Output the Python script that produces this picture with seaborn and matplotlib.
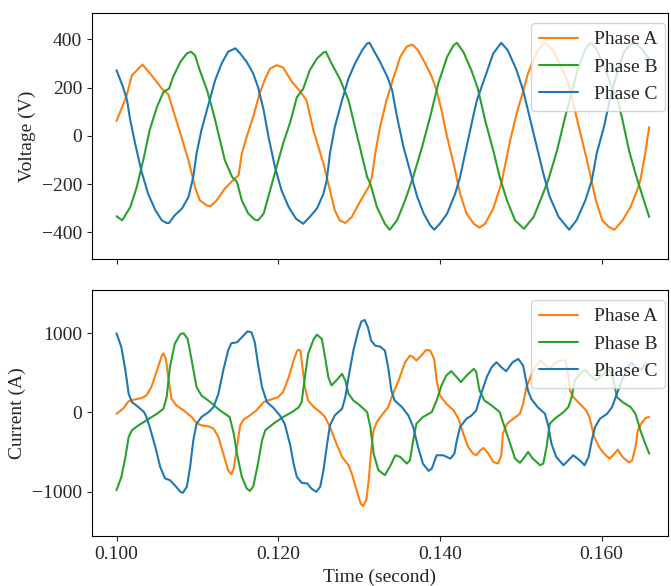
import numpy as np
import pandas as pd
import matplotlib
matplotlib.use("Agg")
import matplotlib.pyplot as plt
from matplotlib.lines import Line2D
from matplotlib.ticker import FormatStrFormatter
import seaborn as sns

# ---- three-phase voltage (time in ms, value in V) ----
va_t = [100.0, 101.2, 101.9, 103.2, 104.35, 105.6, 106.4, 107.0, 107.9, 108.9, 109.7, 110.3, 111.2, 111.6,
        112.4, 113.4, 114.4, 115.1, 115.5, 116.1, 116.9, 117.7, 118.4, 119.0, 119.8, 120.6, 121.7, 122.7,
        123.5, 124.35, 125.6, 126.4, 127.0, 127.6, 128.3, 129.1, 130.1, 131.2, 131.6, 132.0, 132.6, 133.4,
        134.3, 135.1, 135.9, 136.6, 137.3, 138.2, 139.0, 139.6, 140.2, 140.8, 141.7, 142.5, 143.3, 144.2,
        144.9, 145.6, 146.6, 147.6, 148.7, 149.5, 150.1, 150.9, 152.0, 152.6, 153.1, 154.0, 155.1, 155.9,
        156.3, 157.2, 158.2, 159.3, 160.1, 160.9, 161.6, 162.6, 163.6, 164.4, 164.8, 165.4, 165.9]
va_v = [62, 162, 251, 296, 251, 196, 173, 107, 10, -101, -212, -267, -289, -292,
        -267, -218, -184, -163, -73, -4, 79, 176, 238, 279, 293, 284, 224, 185,
        148, 24, -115, -225, -308, -350, -361, -336, -274, -211, -170, -73, 37, 148,
        245, 328, 370, 379, 355, 300, 245, 189, 107, 10, -115, -239, -322, -364,
        -380, -364, -301, -198, -18, 93, 162, 259, 349, 376, 386, 355, 280, 217,
        162, 37, -101, -267, -350, -377, -389, -350, -294, -225, -184, -73, 37]

vb_t = [100.0, 100.7, 101.7, 102.5, 103.3, 104.1, 105.0, 105.8, 106.5, 107.0, 107.9, 108.7, 109.2, 109.7,
        110.3, 111.2, 112.0, 112.8, 113.4, 114.3, 114.9, 115.5, 116.3, 117.1, 117.5, 118.2, 119.0, 119.8,
        120.6, 121.5, 122.3, 123.1, 123.9, 124.8, 125.6, 125.9, 126.6, 127.6, 128.7, 129.5, 130.3, 131.0,
        131.4, 132.2, 133.2, 133.8, 134.7, 135.7, 136.7, 137.8, 138.8, 139.8, 140.9, 141.7, 142.1, 142.9,
        143.9, 144.7, 145.6, 146.6, 147.4, 148.3, 149.3, 150.4, 151.6, 152.6, 153.4, 154.5, 155.5, 156.1,
        157.0, 158.0, 158.6, 159.3, 160.3, 161.3, 161.9, 162.6, 163.4, 164.2, 165.1, 165.9]
vb_v = [-333, -350, -295, -212, -101, 24, 120, 182, 196, 245, 307, 342, 349, 335,
        272, 189, 93, -18, -101, -170, -191, -267, -322, -347, -350, -322, -225, -129,
        -32, 58, 160, 196, 272, 321, 346, 349, 300, 238, 148, 37, -73, -170,
        -198, -294, -364, -389, -350, -267, -170, -46, 79, 217, 328, 376, 386, 349,
        272, 196, 65, -60, -170, -267, -350, -385, -336, -253, -184, -60, 79, 155,
        270, 360, 386, 365, 290, 200, 162, 65, -60, -156, -253, -336]

vc_t = [100.0, 100.8, 101.3, 101.7, 102.3, 103.1, 103.9, 104.8, 105.6, 106.2, 106.5, 107.2, 108.1, 108.9,
        109.5, 109.9, 110.5, 111.4, 112.2, 113.0, 113.8, 114.7, 115.3, 116.1, 116.9, 117.5, 118.2, 118.8,
        119.6, 120.4, 121.3, 122.2, 123.1, 123.9, 124.8, 125.6, 126.0, 126.4, 127.0, 127.9, 128.7, 129.5,
        130.4, 131.0, 131.3, 131.8, 132.6, 133.5, 134.1, 134.7, 135.5, 136.4, 137.2, 138.0, 138.8, 139.3,
        140.0, 140.9, 141.9, 142.5, 143.3, 144.2, 144.6, 145.6, 146.6, 147.6, 148.4, 149.5, 150.3, 151.2,
        152.0, 152.8, 153.6, 154.7, 156.0, 156.9, 158.0, 158.8, 159.4, 160.3, 161.1, 162.0, 162.8, 163.6,
        164.2, 165.0, 165.9]
vc_v = [272, 203, 148, 65, -32, -149, -239, -308, -350, -361, -361, -329, -301, -253,
        -170, -73, 24, 134, 231, 300, 349, 363, 342, 307, 259, 203, 107, -4,
        -129, -225, -295, -343, -364, -336, -301, -239, -184, -73, 37, 148, 238, 300,
        356, 383, 386, 355, 307, 245, 189, 79, -46, -156, -253, -322, -370, -389,
        -364, -322, -239, -170, -46, 93, 150, 245, 342, 386, 355, 272, 189, 65,
        -46, -156, -253, -336, -389, -350, -267, -184, -73, 37, 162, 270, 350, 380,
        386, 360, 320]

# ---- three-phase current (time in ms, value in A) ----
ia_t = [100.0, 100.8, 101.5, 102.3, 103.1, 103.7, 104.3, 105.0, 105.6, 105.8, 106.1, 106.4, 106.8, 107.4,
        108.3, 109.3, 109.9, 110.5, 111.4, 112.0, 112.6, 113.2, 113.8, 114.2, 114.5, 114.9, 115.3, 115.7,
        116.5, 117.3, 118.2, 119.0, 120.0, 120.6, 121.3, 121.9, 122.3, 122.5, 122.75, 123.0, 123.3, 123.7,
        124.4, 125.2, 125.8, 126.4, 127.2, 127.9, 128.7, 129.1, 129.7, 130.2, 130.5, 130.9, 131.2, 131.5,
        131.8, 132.2, 132.8, 133.6, 134.2, 134.9, 135.7, 136.3, 136.7, 137.1, 137.7, 138.3, 138.8, 139.3,
        139.6, 140.0, 140.8, 141.7, 142.3, 142.9, 143.5, 144.1, 144.5, 145.0, 145.4, 146.0, 146.6, 147.2,
        147.6, 147.8, 148.3, 149.1, 149.9, 150.3, 150.7, 151.3, 151.8, 152.4, 153.0, 153.6, 154.4, 155.2,
        155.6, 155.9, 156.1, 156.5, 157.3, 158.1, 158.5, 159.1, 159.7, 160.3, 161.0, 161.6, 162.0, 162.6,
        163.4, 163.8, 164.2, 164.5, 164.9, 165.5, 165.9]
ia_v = [-17, 46, 143, 164, 180, 214, 319, 528, 717, 746, 675, 444, 172, 88,
        25, -59, -134, -164, -176, -205, -310, -520, -730, -780, -709, -436, -164, -92,
        -38, 25, 130, 159, 193, 256, 444, 654, 770, 790, 780, 570, 319, 151,
        67, 4, -59, -184, -394, -562, -667, -772, -981, -1149, -1182, -1107, -855, -478,
        -226, -122, -38, 67, 235, 403, 633, 717, 696, 654, 717, 788, 780, 675,
        403, 214, 109, 25, -80, -268, -436, -520, -541, -480, -449, -520, -625, -646,
        -541, -268, -143, -80, -17, 109, 319, 465, 570, 658, 600, 553, 637, 660,
        650, 450, 277, 193, 109, 25, -59, -310, -436, -520, -583, -520, -470, -562,
        -633, -604, -436, -226, -143, -67, -59]

ib_t = [100.0, 100.6, 101.1, 101.5, 101.9, 102.7, 103.7, 105.0, 105.8, 106.2, 106.6, 107.2, 107.9, 108.3,
        108.8, 109.3, 109.9, 110.5, 111.6, 112.8, 114.0, 114.5, 114.9, 115.5, 116.1, 116.5, 116.9, 117.5,
        118.0, 118.4, 119.4, 120.6, 121.7, 122.5, 122.9, 123.3, 123.7, 124.4, 124.8, 125.4, 125.8, 126.2,
        126.6, 127.2, 127.9, 128.3, 128.7, 129.3, 130.1, 131.0, 131.4, 131.8, 132.4, 133.2, 133.8, 134.5,
        135.1, 135.9, 136.3, 136.7, 137.1, 137.9, 139.0, 139.6, 140.2, 140.8, 141.4, 142.1, 142.6, 143.3,
        144.2, 144.5, 144.9, 145.5, 146.4, 147.4, 148.0, 148.7, 149.3, 149.9, 150.5, 150.9, 151.5, 152.4,
        152.8, 153.2, 153.6, 154.2, 155.3, 155.9, 156.3, 156.7, 157.3, 157.9, 158.8, 159.3, 160.0, 160.9,
        161.2, 161.45, 161.9, 162.6, 163.6, 164.2, 164.8, 165.4, 165.9]
ib_v = [-981, -813, -562, -310, -226, -164, -101, -17, 46, 193, 570, 864, 990, 998,
        927, 654, 319, 214, 130, 25, -59, -268, -520, -813, -960, -990, -939, -646,
        -352, -226, -143, -59, 4, 60, 130, 444, 738, 927, 981, 927, 696, 444,
        340, 403, 486, 403, 235, 151, 88, 4, -184, -520, -730, -792, -688, -541,
        -562, -646, -604, -352, -143, -59, 4, 151, 340, 465, 520, 444, 382, 465,
        549, 510, 277, 151, 88, 4, -184, -394, -583, -637, -562, -499, -583, -667,
        -646, -436, -143, -80, 4, 67, 193, 403, 480, 540, 450, 400, 470, 540,
        500, 423, 193, 130, 67, -17, -226, -394, -520]

ic_t = [100.0, 100.6, 101.1, 101.5, 101.9, 102.7, 103.4, 103.7, 104.1, 104.8, 105.4, 106.0, 106.6, 107.2,
        107.9, 108.2, 108.7, 109.1, 109.5, 109.9, 110.5, 111.4, 112.0, 112.6, 113.2, 113.8, 114.2, 114.9,
        115.5, 116.2, 116.7, 117.1, 117.5, 118.0, 118.6, 119.4, 120.2, 120.8, 121.5, 121.9, 122.3, 122.9,
        123.6, 124.1, 124.7, 125.2, 125.6, 126.0, 126.4, 127.0, 127.9, 128.3, 128.7, 129.3, 129.9, 130.3,
        130.7, 131.1, 131.5, 132.0, 132.6, 133.2, 133.6, 134.0, 134.4, 135.3, 136.1, 136.7, 137.3, 137.9,
        138.6, 139.0, 139.6, 140.4, 141.3, 141.8, 142.1, 142.5, 143.3, 143.9, 144.5, 145.1, 145.8, 146.4,
        147.0, 147.6, 148.2, 149.0, 149.7, 150.3, 150.9, 151.3, 152.1, 153.0, 153.4, 153.8, 154.4, 155.3,
        155.9, 156.5, 157.3, 157.9, 158.4, 158.8, 159.2, 159.8, 160.7, 161.3, 161.9, 162.6, 163.2, 163.7,
        164.3, 164.9, 165.5, 165.9]
ic_v = [998, 822, 528, 235, 130, 67, 4, -59, -184, -436, -688, -834, -855, -918,
        -1002, -1015, -939, -688, -352, -143, -59, 4, 67, 235, 528, 780, 872, 885,
        948, 1023, 1010, 885, 612, 319, 130, 59, -38, -143, -420, -646, -813, -889,
        -897, -960, -1002, -939, -730, -436, -164, -38, 46, 193, 444, 780, 1031, 1149,
        1166, 1073, 906, 843, 830, 780, 570, 277, 151, 67, -38, -184, -436, -646,
        -738, -709, -541, -541, -583, -520, -352, -184, -80, -40, 25, 235, 444, 570,
        633, 570, 520, 633, 675, 591, 277, 172, 67, -17, -164, -394, -562, -667,
        -604, -541, -604, -667, -562, -352, -184, -80, -17, 67, 235, 423, 560, 630,
        570, 540, 620, 600]

phases = ["Phase A", "Phase B", "Phase C"]
colors = {"Phase A": "#ff7f0e", "Phase B": "#2ca02c", "Phase C": "#1f77b4"}


def long_frame(series):
    parts = []
    for name, (t_ms, vals) in zip(phases, series):
        parts.append(pd.DataFrame({"time": np.asarray(t_ms) / 1000.0,
                                   "value": vals, "phase": name}))
    return pd.concat(parts, ignore_index=True)


volt = long_frame([(va_t, va_v), (vb_t, vb_v), (vc_t, vc_v)])
curr = long_frame([(ia_t, ia_v), (ib_t, ib_v), (ic_t, ic_v)])

sns.set_style("ticks")
plt.rcParams["font.family"] = ["Liberation Serif", "DejaVu Serif"]
plt.rcParams["font.size"] = 14
plt.rcParams["axes.edgecolor"] = "black"

fig, (ax1, ax2) = plt.subplots(2, 1, figsize=(6.71, 5.86), dpi=100, sharex=True)
fig.subplots_adjust(left=0.1367, right=0.995, top=0.978, bottom=0.0853, hspace=0.126)

for ax, df in ((ax1, volt), (ax2, curr)):
    sns.lineplot(data=df, x="time", y="value", hue="phase", hue_order=phases,
                 palette=colors, estimator=None, sort=False, linewidth=1.5,
                 legend=False, ax=ax)
    handles = [Line2D([], [], color=colors[p], linewidth=1.5) for p in phases]
    ax.legend(handles, phases, loc="upper right", bbox_to_anchor=(0.9953, 0.959),
              borderaxespad=0, fontsize=14)
    ax.tick_params(labelsize=14)

ax1.set_ylim(-510, 510)
ax1.set_yticks([-400, -200, 0, 200, 400])
ax1.set_ylabel("Voltage (V)", fontsize=14)
ax1.set_xlabel("")

ax2.set_ylim(-1560, 1545)
ax2.set_yticks([-1000, 0, 1000])
ax2.set_ylabel("Current (A)", fontsize=14)
ax2.set_xlabel("Time (second)", fontsize=14)

ax2.set_xlim(0.09693, 0.16818)
ax2.set_xticks([0.10, 0.12, 0.14, 0.16])
ax2.xaxis.set_major_formatter(FormatStrFormatter("%.3f"))

fig.savefig("out.png", dpi=100)
